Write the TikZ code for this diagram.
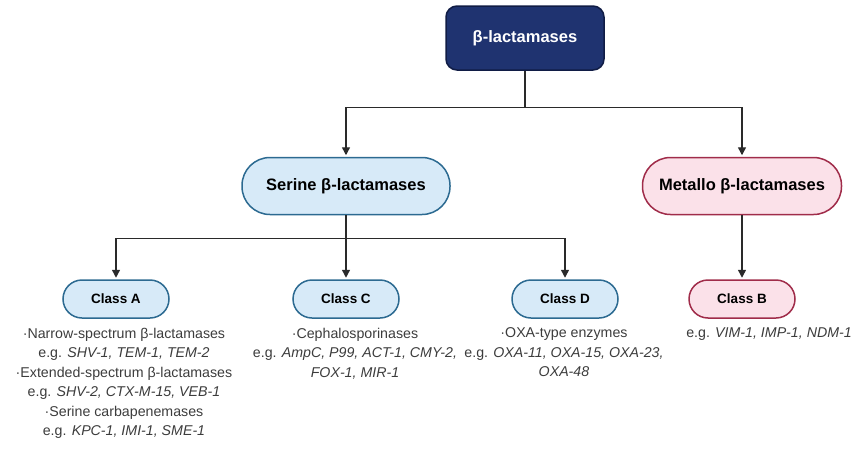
\documentclass[tikz,border=0pt]{standalone}
\usepackage{fontspec}
\setmainfont{Liberation Sans}
\usetikzlibrary{arrows.meta,shapes}
\definecolor{rootfill}{HTML}{1F3370}
\definecolor{rootline}{HTML}{101C45}
\definecolor{serfill}{HTML}{D7EAF8}
\definecolor{serline}{HTML}{2C6A91}
\definecolor{metfill}{HTML}{FBE1E9}
\definecolor{metline}{HTML}{A02C4A}
\definecolor{linegrey}{HTML}{2A2A2A}
\definecolor{txtgrey}{HTML}{3C3C3C}

\begin{document}
\begin{tikzpicture}[x=1pt,y=-1pt,>={Triangle[length=8pt,width=8pt]},line width=1.5pt]
  \tikzstyle{root}=[rectangle,rounded corners=11pt,draw=rootline,fill=rootfill,
              text=white,font=\bfseries\fontsize{16.5}{20}\selectfont,
              minimum width=158pt,minimum height=64pt]
  \tikzstyle{family}=[rectangle,rounded corners=28pt,
              font=\bfseries\fontsize{16.5}{20}\selectfont,minimum height=57pt]
  \tikzstyle{class}=[rectangle,rounded corners=19pt,
              font=\bfseries\fontsize{13.5}{16}\selectfont,
              minimum width=106pt,minimum height=38pt]
  \tikzstyle{serine}=[draw=serline,fill=serfill]
  \tikzstyle{metallo}=[draw=metline,fill=metfill]
  \tikzstyle{info}=[align=center,anchor=north,inner sep=0pt,text=txtgrey,
              font=\fontsize{14.2}{19.5}\selectfont]
  \tikzstyle{link}=[draw=linegrey,line width=1.4pt,->,shorten >=1.5pt]
  \useasboundingbox (0,0) rectangle (865,450);
    \node [root] (bl) at (525,38) {β-lactamases};
    \node [family,serine,minimum width=208pt] (ser) at (346,186) {Serine β-lactamases};
    \node [family,metallo,minimum width=199pt] (met) at (742,186) {Metallo β-lactamases};
    \node [class,serine] (ca) at (116,299) {Class A};
    \node [class,serine] (cc) at (346,299) {Class C};
    \node [class,serine] (cd) at (565,299) {Class D};
    \node [class,metallo] (cb) at (742,299) {Class B};
    % descriptions
    \node [info] (dA) at (124,327) {·Narrow-spectrum β-lactamases\\
      e.g. \textit{SHV-1, TEM-1, TEM-2}\\
      ·Extended-spectrum β-lactamases\\
      e.g. \textit{SHV-2, CTX-M-15, VEB-1}\\
      ·Serine carbapenemases\\
      e.g. \textit{KPC-1, IMI-1, SME-1}};
    \node [info] (dC) at (355,327) {·Cephalosporinases\\
      e.g. \textit{AmpC, P99, ACT-1, CMY-2,}\\
      \textit{FOX-1, MIR-1}};
    \node [info] (dD) at (564,327) {·OXA-type enzymes\\
      e.g. \textit{OXA-11, OXA-15, OXA-23,}\\
      \textit{OXA-48}};
    \node [info] (dB) at (769,327) {e.g. \textit{VIM-1, IMP-1, NDM-1}};
    % connectors
    \draw [link] (bl.south) -- ++(0,37) -| (ser.north);
    \draw [link] (bl.south) -- ++(0,37) -| (met.north);
    \draw [link] (ser.south) -- ++(0,23) -| (ca.north);
    \draw [link] (ser.south) -- (cc.north);
    \draw [link] (ser.south) -- ++(0,23) -| (cd.north);
    \draw [link] (met.south) -- (cb.north);
\end{tikzpicture}
\end{document}
